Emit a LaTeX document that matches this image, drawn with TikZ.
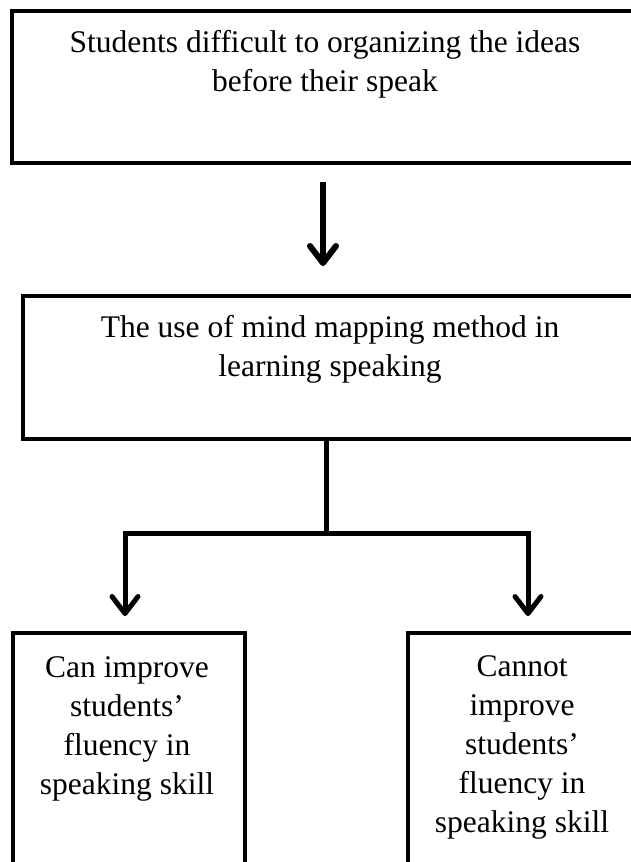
\documentclass[tikz,border=0pt]{standalone}
\usepackage{fontspec}
\setmainfont{Liberation Serif}
\usetikzlibrary{arrows.meta}
\begin{document}
\begin{tikzpicture}[x=1pt,y=-1pt,
  box/.style={draw=black, line width=3.3pt, rectangle, inner sep=0pt},
  txt/.style={inner sep=0pt, anchor=north, font=\fontsize{31.5}{39}\selectfont},
  conn/.style={line width=5pt, line join=miter},
  arr/.style={conn, -{Straight Barb[length=17pt, width=26pt, round]}}]
\useasboundingbox (0,0) rectangle (631,862);
\clip (0,0) rectangle (631,862);
\fill[white] (0,0) rectangle (631,862);
% boxes
\node[box, minimum width=622pt, minimum height=152pt] (b1) at (323,87) {};
\node[box, minimum width=614pt, minimum height=143pt] (b2) at (330,367.5) {};
\node[box, minimum width=232pt, minimum height=247pt] (b3) at (129,756.5) {};
\node[box, minimum width=240pt, minimum height=247pt] (b4) at (528,756.5) {};
% texts
\node[txt] (t1) at (325,25.2) {\begin{tabular}{@{}c@{}}Students difficult to organizing the ideas\\before their speak\end{tabular}};
\node[txt] (t2) at (330,309.7) {\begin{tabular}{@{}c@{}}The use of mind mapping method in\\learning speaking\end{tabular}};
\node[txt] (t3) at (127,649.7) {\begin{tabular}{@{}c@{}}Can improve\\students’\\fluency in\\speaking skill\end{tabular}};
\node[txt] (t4) at (522,649.2) {\begin{tabular}{@{}c@{}}Cannot\\improve\\students’\\fluency in\\speaking skill\end{tabular}};
% connectors
\coordinate (a1s) at (323,182);
\coordinate (a1e) at (323,266);
\draw[arr, line width=6pt] (a1s) -- (a1e);
\coordinate (j) at (326,533);
\coordinate (jl) at (125,533);
\coordinate (jr) at (528,533);
\coordinate (el) at (125,616);
\coordinate (er) at (528,616);
\draw[conn] (b2.south -| j) -- (j);
\draw[arr] (j) -- (jl) -- (el);
\draw[arr] (j) -- (jr) -- (er);
\end{tikzpicture}
\end{document}
